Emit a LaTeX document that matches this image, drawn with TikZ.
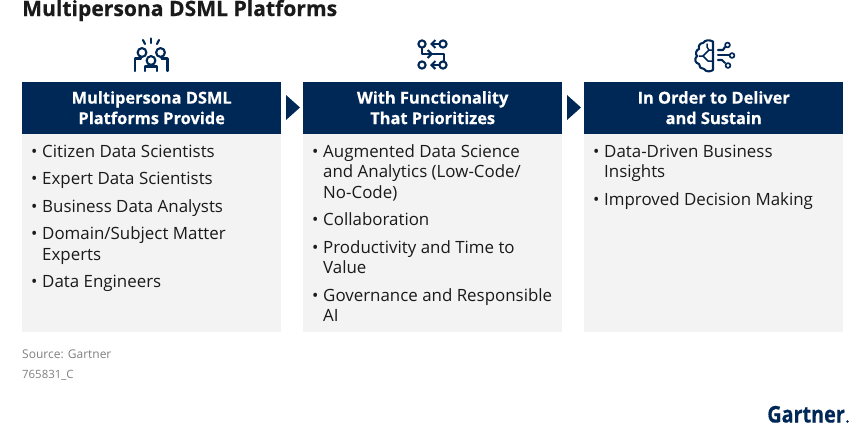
\documentclass[tikz,border=0pt]{standalone}
\usepackage{fontspec}
\setmainfont{Open Sans}[BoldFeatures={FakeBold=0.5}]
\usetikzlibrary{arrows.meta}
\definecolor{navy}{HTML}{002856}
\definecolor{panel}{HTML}{F3F3F3}
\definecolor{srcgray}{HTML}{7F7F7F}
\definecolor{ink}{HTML}{1A1A1A}
\tikzset{
 headbox/.style={fill=navy,draw=none,text=white,minimum width=259pt,minimum height=52pt,inner sep=0pt,align=center,font=\fontsize{16.4}{20.5}\selectfont\bfseries,anchor=north west},
 bodybox/.style={fill=panel,draw=none,minimum width=259pt,inner sep=0pt,anchor=north west},
 item/.style={anchor=base west,inner sep=0pt,text=ink,font=\fontsize{16.9}{21}\selectfont},
 note/.style={anchor=base west,inner sep=0pt,text=srcgray,font=\fontsize{12}{14}\selectfont},
 chev/.style={fill=navy,draw=none},
 ico/.style={draw=navy,line width=2.1pt,line cap=round,line join=round},
 icoa/.style={ico,-{Straight Barb[length=4pt,width=8pt]}},
}
\begin{document}
\begin{tikzpicture}[x=1pt,y=-1pt]
\useasboundingbox (0,0) rectangle (865,432);
\node[anchor=base west,inner sep=0pt,text=ink,font=\fontsize{21.1}{24}\selectfont\bfseries] (title) at (22,16) {Multipersona DSML Platforms};
% panels
\foreach \n/\x in {a/22,b/303,c/584}{
  \node[bodybox,minimum height=199pt] (body\n) at (\x,133) {};
}
\node[headbox] (heada) at (22,81.5) {Multipersona DSML\\Platforms Provide};
\node[headbox] (headb) at (303,81.5) {With Functionality\\That Prioritizes};
\node[headbox] (headc) at (584,81.5) {In Order to Deliver\\and Sustain};
% chevrons
\fill[chev] (286,95) -- (300,107.5) -- (286,120) -- cycle;
\fill[chev] (567,95) -- (581,107.5) -- (567,120) -- cycle;
% column 1
\foreach \t/\y [count=\i] in {Citizen Data Scientists/157,Expert Data Scientists/184,Business Data Analysts/212,{Domain/Subject Matter}/239,Data Engineers/287}{
  \node[item] (ab\i) at (31,\y) {•};
  \node[item] (at\i) at (42,\y) {\t};
}
\node[item] (at6) at (42,260) {Experts};
% column 2
\foreach \t/\y [count=\i] in {Augmented Data Science/157,Collaboration/225,Productivity and Time to/253,Governance and Responsible/301}{
  \node[item] (bb\i) at (312,\y) {•};
  \node[item] (bt\i) at (323,\y) {\t};
}
\node[item] (bt5) at (323,177) {and Analytics (Low-Code/};
\node[item] (bt6) at (323,198) {No-Code)};
\node[item] (bt7) at (323,273) {Value};
\node[item] (bt8) at (323,321) {AI};
% column 3
\foreach \t/\y [count=\i] in {Data-Driven Business/157,Improved Decision Making/205}{
  \node[item] (cb\i) at (593,\y) {•};
  \node[item] (ct\i) at (604,\y) {\t};
}
\node[item] (ct3) at (604,177) {Insights};
% notes
\node[note] (src) at (22,358) {Source: Gartner};
\node[note,font=\fontsize{11.4}{14}\selectfont] (code) at (22,378) {765831\_C};
% logo
\node[anchor=base east,inner sep=0pt,text=navy,font=\fontsize{23}{24}\selectfont\bfseries] (logo) at (845,422.5) {\scalebox{0.86}[1]{Gartner}};
\fill[navy] (847.5,421.5) circle (1.3pt);
% icon: people
\draw[ico] (142,52.5) circle (4.4pt);
\draw[ico] (160.5,52.5) circle (4.4pt);
\draw[ico] (151,60.5) circle (4.4pt);
\draw[ico] (135,71) -- (135,58.5) -- (141,58.5);
\draw[ico] (167.5,71) -- (167.5,58.5) -- (161.5,58.5);
\draw[ico] (145,71) -- (145,66.5) -- (157,66.5) -- (157,71);
\draw[ico] (143,40) -- (145,44);
\draw[ico] (151,38.5) -- (151,43);
\draw[ico] (159,40) -- (157,44);
% icon: flow
\draw[ico] (422,44) circle (3.6pt);
\draw[ico] (443,44) circle (3.6pt);
\draw[ico] (422,65) circle (3.6pt);
\draw[ico] (443,65) circle (3.6pt);
\draw[icoa] (439,44) -- (430,44);
\draw[icoa] (439,65) -- (430,65);
\draw[icoa] (422,48) -- (422,54) -- (433,54);
\draw[ico] (432,54) -- (444,54) -- (444,61);
% icon: brain
\draw[ico] (713,41.5) .. controls (709,39.5) and (705,40) .. (703,43) .. controls (700,43) and (698,46) .. (699,49) .. controls (696,50) and (695,54) .. (697,56) .. controls (694,59) and (695,63) .. (699,64) .. controls (699,67) and (701,69) .. (704,69) .. controls (706,72) and (710,72) .. (713,70) -- cycle;
\draw[ico,line width=1.5pt] (713,50) -- (709,50) -- (703,56) -- (699,56);
\draw[ico,line width=1.5pt] (703,56) -- (708,61) -- (713,61);
\draw[ico,line width=1.5pt] (707,44) -- (707,47) -- (709,50);
\draw[ico] (718,55) -- (729,55);
\draw[ico] (718,50) -- (723,50) -- (725,47);
\draw[ico] (718,60) -- (722,60) -- (725,63);
\draw[ico,line width=1.7pt] (727.5,45) circle (2.4pt);
\draw[ico,line width=1.7pt] (732,55.5) circle (2.4pt);
\draw[ico,line width=1.7pt] (728,65.5) circle (2.4pt);
\end{tikzpicture}
\end{document}
